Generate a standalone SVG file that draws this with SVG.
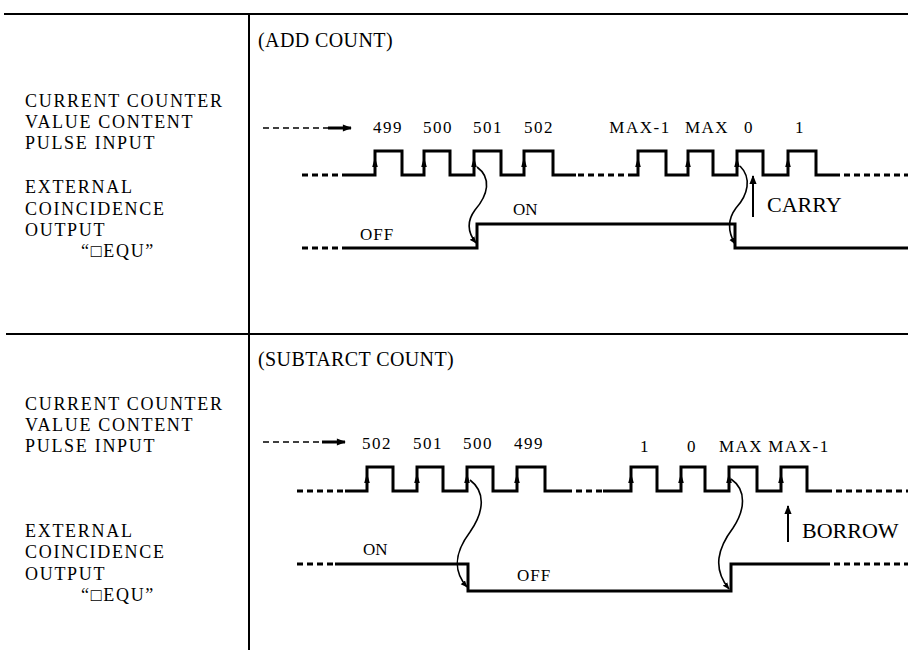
<svg xmlns="http://www.w3.org/2000/svg" width="908" height="650" viewBox="0 0 908 650">
<defs>
<style>
text{font-family:"Liberation Serif","Times New Roman",serif;fill:#000}
.lbl{font-size:18px;letter-spacing:1.7px}
.ttl{font-size:20px;letter-spacing:0.4px}
.num{font-size:17px;letter-spacing:1.5px;text-anchor:middle}
.st{font-size:17px}
.big{font-size:22px}
.frame{stroke:#000;stroke-width:2;fill:none}
.wave{stroke:#000;stroke-width:3;fill:none;stroke-linejoin:miter}
.dash{stroke:#000;stroke-width:3;fill:none;stroke-dasharray:6 4}
.thin{stroke:#000;stroke-width:1.6;fill:none}
</style>
<marker id="ah" viewBox="0 0 10 10" refX="9" refY="5" markerWidth="7" markerHeight="7" markerUnits="userSpaceOnUse" orient="auto">
<path d="M0,1 L10,5 L0,9 Z" fill="#000"/>
</marker>
<marker id="ahb" viewBox="0 0 10 10" refX="9" refY="5" markerWidth="10" markerHeight="9" markerUnits="userSpaceOnUse" orient="auto">
<path d="M0,1 L10,5 L0,9 Z" fill="#000"/>
</marker>
<path id="eup" d="M-2.8,5 L2.8,5 L0,-5 Z"/>
</defs>
<rect width="908" height="650" fill="#fff"/>

<g id="frame">
<line class="frame" x1="4" y1="14" x2="908" y2="14"/>
<line class="frame" x1="6" y1="334" x2="908" y2="334"/>
<line class="frame" x1="249" y1="14" x2="249" y2="650"/>
</g>

<g id="labels-add">
<text class="ttl" x="258" y="47">(ADD COUNT)</text>
<text class="lbl" x="25" y="107">CURRENT COUNTER</text>
<text class="lbl" x="25" y="128">VALUE CONTENT</text>
<text class="lbl" x="25" y="149">PULSE INPUT</text>
<text class="lbl" x="25" y="193">EXTERNAL</text>
<text class="lbl" x="25" y="215">COINCIDENCE</text>
<text class="lbl" x="25" y="236">OUTPUT</text>
<text class="lbl" x="81" y="257">“□EQU”</text>
</g>

<g id="labels-sub">
<text class="ttl" x="258" y="366">(SUBTARCT COUNT)</text>
<text class="lbl" x="25" y="410">CURRENT COUNTER</text>
<text class="lbl" x="25" y="431">VALUE CONTENT</text>
<text class="lbl" x="25" y="452">PULSE INPUT</text>
<text class="lbl" x="25" y="537">EXTERNAL</text>
<text class="lbl" x="25" y="558">COINCIDENCE</text>
<text class="lbl" x="25" y="580">OUTPUT</text>
<text class="lbl" x="81" y="601">“□EQU”</text>
</g>

<g id="values-add">
<text class="num" x="388" y="133">499</text>
<text class="num" x="438" y="133">500</text>
<text class="num" x="488" y="133">501</text>
<text class="num" x="539" y="133">502</text>
<text class="num" x="640" y="133">MAX-1</text>
<text class="num" x="707" y="133">MAX</text>
<text class="num" x="749" y="133">0</text>
<text class="num" x="800" y="133">1</text>
</g>

<g id="values-sub">
<text class="num" x="377" y="449">502</text>
<text class="num" x="428" y="449">501</text>
<text class="num" x="478" y="449">500</text>
<text class="num" x="529" y="449">499</text>
<text class="num" x="645" y="452">1</text>
<text class="num" x="692" y="452">0</text>
<text class="num" x="741" y="452">MAX</text>
<text class="num" x="799" y="452">MAX-1</text>
</g>

<g id="pulse-add">
<path class="dash" d="M302,175 H347"/>
<path class="wave" d="M347,175 H375 V151 H402 V175 H424 V151 H450 V175 H474 V151 H501 V175 H524 V151 H553 V175 H576"/>
<path class="dash" d="M578,175 H628"/>
<path class="wave" d="M628,175 H638 V151 H666 V175 H688 V151 H713 V175 H737 V151 H763 V175 H788 V151 H816 V175 H840"/>
<path class="dash" d="M844,175 H908"/>
<use href="#eup" x="375" y="162"/>
<use href="#eup" x="424" y="162"/>
<use href="#eup" x="474" y="162"/>
<use href="#eup" x="524" y="162"/>
<use href="#eup" x="638" y="162"/>
<use href="#eup" x="688" y="162"/>
<use href="#eup" x="737" y="162"/>
<use href="#eup" x="788" y="162"/>
</g>

<g id="output-add">
<path class="dash" d="M302,248 H347"/>
<path class="wave" d="M347,248 H477 V224 H735 V248 H908"/>
<text class="st" x="360" y="240" letter-spacing="1">OFF</text>
<text class="st" x="513" y="215">ON</text>
<text class="big" x="767" y="212">CARRY</text>
</g>

<g id="pulse-sub">
<path class="dash" d="M297,491 H345"/>
<path class="wave" d="M345,491 H367 V467 H393 V491 H417 V467 H443 V491 H467 V467 H493 V491 H517 V467 H545 V491 H572"/>
<path class="dash" d="M576,491 H603"/>
<path class="wave" d="M603,491 H631 V467 H657 V491 H681 V467 H705 V491 H729 V467 H757 V491 H781 V467 H807 V491 H832"/>
<path class="dash" d="M836,491 H908"/>
<use href="#eup" x="367" y="478"/>
<use href="#eup" x="417" y="478"/>
<use href="#eup" x="467" y="478"/>
<use href="#eup" x="517" y="478"/>
<use href="#eup" x="631" y="478"/>
<use href="#eup" x="681" y="478"/>
<use href="#eup" x="729" y="478"/>
<use href="#eup" x="781" y="478"/>
</g>

<g id="output-sub">
<path class="dash" d="M297,564 H335"/>
<path class="wave" d="M335,564 H468 V591 H731 V564 H830"/>
<path class="dash" d="M834,564 H908"/>
<text class="st" x="363" y="555">ON</text>
<text class="st" x="517" y="581" letter-spacing="1">OFF</text>
<text class="big" x="802" y="538">BORROW</text>
</g>

<g id="connectors">
<path class="thin" d="M263,128 H328" stroke-dasharray="6 4"/>
<path d="M328,128 H351" stroke="#000" stroke-width="3" marker-end="url(#ahb)"/>
<path class="thin" d="M263,442 H322" stroke-dasharray="6 4"/>
<path d="M322,442 H345" stroke="#000" stroke-width="3" marker-end="url(#ahb)"/>
<path class="thin" d="M477,167 C492,178 488,195 475,210 C466,222 468,233 476,243" marker-end="url(#ah)"/>
<path class="thin" d="M740,166 C752,178 748,195 736,208 C727,220 728,232 735,244" marker-end="url(#ah)"/>
<path class="thin" d="M470,480 C486,492 484,512 470,532 C455,552 452,570 467,587" marker-end="url(#ah)"/>
<path class="thin" d="M731,479 C747,490 745,510 733,528 C718,548 712,568 729,589" marker-end="url(#ah)"/>
<path d="M753,217 V176" stroke="#000" stroke-width="2" marker-end="url(#ahb)"/>
<path d="M788,542 V506" stroke="#000" stroke-width="2" marker-end="url(#ahb)"/>
</g>
</svg>
